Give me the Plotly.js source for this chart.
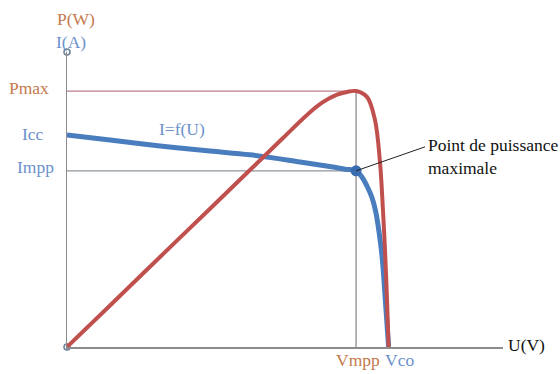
<!DOCTYPE html>
<html>
<head>
<meta charset="utf-8">
<script src="https://cdn.plot.ly/plotly-3.0.1.min.js"></script>
<style>
  html, body { margin: 0; padding: 0; background: #ffffff; }
  #chart { width: 560px; height: 374px; }
</style>
</head>
<body>
<div id="chart"></div>
<script>
// Caractéristiques I(U) et P(U) d'un panneau photovoltaïque (tension en V)
const uCurrent = [0, 2.96, 6.40, 9.84, 12.59, 16.03, 18.30, 19.13, 19.89, 20.30, 20.64, 20.99, 21.26, 21.47, 21.67, 21.81, 21.95, 22.13];
const current  = [5.03, 4.91, 4.77, 4.65, 4.56, 4.39, 4.27, 4.22, 4.18, 4.03, 3.82, 3.54, 3.18, 2.73, 2.18, 1.59, 0.88, 0];

const uPower = [0, 2.96, 6.40, 9.84, 12.59, 14.86, 16.51, 17.55, 18.58, 19.27, 19.89, 20.64, 21.19, 21.54, 21.74, 21.88, 22.02, 22.13];
const power  = [0, 13.5, 29.3, 45.0, 57.6, 68.0, 75.5, 79.5, 82.1, 83.0, 83.3, 81.4, 73.9, 59.9, 44.6, 31.6, 15.3, 0];

// Grandeurs caractéristiques
const Vmpp = 19.89;
const Vco = 22.13;
const Impp = 4.18;
const Icc = 5.03;
const Pmax = 83.3;

// Étendue des axes
const uMax = 30;
const iMax = 7;
const pMax = 96;

const serif = "Liberation Serif";
const fs = 17.5;
const brown = "#c57a4c";
const blueTxt = "#6d92cd";
const blueLine = "#4a7dbd";
const redLine = "#c0504d";
const axisGrey = "#8c8c8c";

const traces = [
  {
    x: uCurrent, y: current, yaxis: "y",
    type: "scatter", mode: "lines",
    line: { color: blueLine, width: 5, shape: "spline", smoothing: 1 },
    hoverinfo: "skip"
  },
  {
    x: [Vmpp], y: [Impp], yaxis: "y",
    type: "scatter", mode: "markers",
    marker: { color: "#3a6db0", size: 11 },
    hoverinfo: "skip"
  },
  {
    x: [0, 0], y: [0, iMax], yaxis: "y",
    type: "scatter", mode: "markers", cliponaxis: false,
    marker: { color: "#ffffff", size: 6, line: { color: "#6c7f96", width: 1.5 } },
    hoverinfo: "skip"
  },
  {
    x: uPower, y: power, yaxis: "y2",
    type: "scatter", mode: "lines",
    line: { color: redLine, width: 4, shape: "spline", smoothing: 1 },
    hoverinfo: "skip"
  }
];

const shapes = [
  // Repères Pmax, Impp et Vmpp
  { type: "line", layer: "below", xref: "x", yref: "y2", x0: 0, x1: Vmpp, y0: Pmax, y1: Pmax,
    line: { color: "#b98089", width: 1.3 } },
  { type: "line", layer: "below", xref: "x", yref: "y", x0: 0, x1: Vmpp, y0: Impp, y1: Impp,
    line: { color: "#8d949c", width: 1.3 } },
  { type: "line", layer: "below", xref: "x", yref: "y2", x0: Vmpp, x1: Vmpp, y0: 0, y1: Pmax,
    line: { color: "#8e8a93", width: 1.3 } },
  // Trait de rappel vers le point de puissance maximale
  { type: "line", layer: "above", xref: "x", yref: "y",
    xsizemode: "pixel", ysizemode: "pixel", xanchor: Vmpp, yanchor: Impp,
    x0: 0, y0: 0, x1: 69, y1: 24,
    line: { color: "#222222", width: 1 } }
];

const ann = (o) => Object.assign({ showarrow: false, font: { family: serif, size: fs, color: blueTxt } }, o);

const annotations = [
  ann({ text: "P(W)", xref: "paper", yref: "paper", x: 0, y: 1, xanchor: "center", yanchor: "middle",
        xshift: 9, yshift: 33, font: { family: serif, size: fs, color: brown } }),
  ann({ text: "I(A)", xref: "paper", yref: "paper", x: 0, y: 1, xanchor: "center", yanchor: "middle",
        xshift: 4, yshift: 10 }),
  ann({ text: "Pmax", xref: "paper", yref: "y2", x: 0, y: Pmax, xanchor: "right", yanchor: "middle",
        xshift: -16, yshift: 3, font: { family: serif, size: fs, color: brown } }),
  ann({ text: "Icc", xref: "paper", yref: "y", x: 0, y: Icc, xanchor: "right", yanchor: "middle",
        xshift: -21, yshift: 1 }),
  ann({ text: "Impp", xref: "paper", yref: "y", x: 0, y: Impp, xanchor: "right", yanchor: "middle",
        xshift: -11, yshift: 4 }),
  ann({ text: "Vmpp", xref: "x", yref: "paper", x: Vmpp, y: 0, xanchor: "center", yanchor: "middle",
        xshift: 2, yshift: -13, font: { family: serif, size: fs, color: brown } }),
  ann({ text: "Vco", xref: "x", yref: "paper", x: Vco, y: 0, xanchor: "center", yanchor: "middle",
        xshift: 11, yshift: -13 }),
  ann({ text: "U(V)", xref: "paper", yref: "paper", x: 1, y: 0, xanchor: "left", yanchor: "middle",
        xshift: 3, yshift: 2, font: { family: serif, size: fs, color: "#111111" } }),
  ann({ text: "I=f(U)", xref: "x", yref: "y", x: 7.91, y: 5.17, xanchor: "center", yanchor: "middle" }),
  ann({ text: "Point de puissance<br>maximale", xref: "x", yref: "y", x: Vmpp, y: Impp,
        xanchor: "left", yanchor: "middle", align: "left", xshift: 70, yshift: 14,
        font: { family: serif, size: fs, color: "#111111" } })
];

const layout = {
  width: 560, height: 374,
  margin: { l: 67, r: 57, t: 52, b: 27, pad: 0 },
  paper_bgcolor: "#ffffff", plot_bgcolor: "#ffffff",
  showlegend: false,
  font: { family: serif },
  xaxis: {
    range: [0, uMax], showgrid: false, zeroline: false, showticklabels: false, ticks: "",
    showline: true, linecolor: axisGrey, linewidth: 1.5, fixedrange: true
  },
  yaxis: {
    range: [0, iMax], showgrid: false, zeroline: false, showticklabels: false, ticks: "",
    showline: true, linecolor: axisGrey, linewidth: 1.5, fixedrange: true
  },
  yaxis2: {
    range: [0, pMax], overlaying: "y", side: "left", showgrid: false, zeroline: false,
    showticklabels: false, ticks: "", showline: false, fixedrange: true
  },
  shapes: shapes,
  annotations: annotations
};

Plotly.newPlot("chart", traces, layout, { staticPlot: true, displayModeBar: false });
</script>
</body>
</html>
